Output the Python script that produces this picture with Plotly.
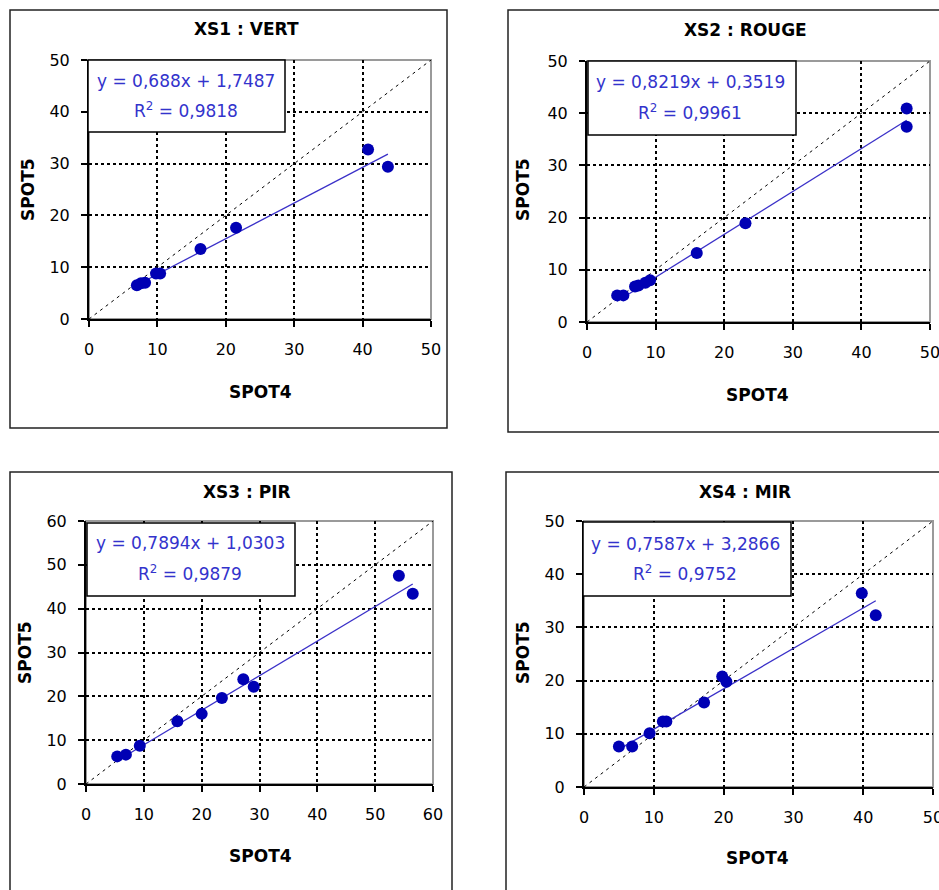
import plotly.graph_objects as go

W, H = 939, 890

titles = ["XS1 : VERT", "XS2 : ROUGE", "XS3 : PIR", "XS4 : MIR"]
axis_max = [50, 50, 60, 50]

x1 = [7.0, 7.6, 8.2, 9.8, 10.4, 16.3, 21.5, 40.8, 43.7]
y1 = [6.5, 6.9, 7.0, 8.8, 8.8, 13.5, 17.6, 32.7, 29.4]

x2 = [4.4, 5.3, 7.0, 7.5, 8.5, 9.2, 16.0, 23.1, 46.6, 46.6]
y2 = [5.1, 5.1, 6.8, 7.0, 7.5, 8.0, 13.2, 18.9, 40.9, 37.4]

x3 = [5.4, 6.9, 9.3, 15.8, 20.0, 23.5, 27.2, 29.0, 54.1, 56.5]
y3 = [6.3, 6.7, 8.7, 14.3, 16.0, 19.6, 23.9, 22.2, 47.5, 43.4]

x4 = [5.0, 6.9, 9.4, 11.3, 11.8, 17.2, 19.8, 20.4, 39.8, 41.8]
y4 = [7.6, 7.6, 10.1, 12.3, 12.3, 15.9, 20.75, 19.8, 36.4, 32.3]

slopes = [0.688, 0.8219, 0.7894, 0.7587]
intercepts = [1.7487, 0.3519, 1.0303, 3.2866]
r2 = [0.9818, 0.9961, 0.9879, 0.9752]

xs = [x1, x2, x3, x4]
ys = [y1, y2, y3, y4]

# layout (pixel positions)
plot_px = [(89, 431, 60, 319), (587, 930, 61, 322), (86, 433, 521, 784), (584, 933, 521, 787)]
outer_px = [(10, 447, 10, 428), (508, 945, 10, 432), (10, 452, 472, 895), (506, 945, 472, 895)]
title_px = [(246, 29), (745, 30), (247, 492), (745, 492)]
xt_px = [(260, 392), (757, 395), (260, 856), (757, 858)]
yt_px = [(28, 190), (523, 190), (25, 653), (523, 653)]
box_px = [(88, 285, 60, 132), (588, 796, 61, 135), (87, 295, 523, 596), (583, 791, 522, 596)]
eq_px = [(186, 81, 110), (690, 82, 112), (190, 543, 573), (685, 544, 573)]

FONT = "DejaVu Sans"
BLUE_TXT = "#3333CC"
MARK = "#0000B4"
LINE = "#3a30c8"


def px(x):
    return x / W


def py(y):
    return 1 - y / H


def fmt(v):
    return str(v).replace(".", ",")


fig = go.Figure()
shapes = []
annotations = []

for i in range(4):
    sfx = "" if i == 0 else str(i + 1)
    xa, ya = "x" + sfx, "y" + sfx
    m = axis_max[i]
    # 1:1 line
    fig.add_trace(go.Scatter(x=[0, m], y=[0, m], mode="lines", xaxis=xa, yaxis=ya,
                             line=dict(color="black", width=1, dash="3px,4px"),
                             hoverinfo="skip", showlegend=False))
    # regression line
    xmin, xmax = min(xs[i]), max(xs[i])
    fig.add_trace(go.Scatter(x=[xmin, xmax],
                             y=[slopes[i] * xmin + intercepts[i], slopes[i] * xmax + intercepts[i]],
                             mode="lines", xaxis=xa, yaxis=ya,
                             line=dict(color=LINE, width=1.3), showlegend=False))
    # points
    fig.add_trace(go.Scatter(x=xs[i], y=ys[i], mode="markers", xaxis=xa, yaxis=ya,
                             marker=dict(color=MARK, size=12, symbol="circle"),
                             showlegend=False))

    x0, x1p, y0, y1p = plot_px[i]
    axcommon = dict(
        range=[0, m], dtick=10, tick0=0, showgrid=True, gridcolor="black", gridwidth=1.6,
        griddash="3px,3px", showline=True, linecolor="black", linewidth=2,
        ticks="outside", ticklen=6, tickwidth=1.5, tickcolor="black", zeroline=False,
        tickfont=dict(family=FONT, size=16, color="black"), fixedrange=True,
        automargin=False, ticklabeloverflow="allow",
    )
    fig.layout["xaxis" + sfx] = dict(axcommon, domain=[px(x0), px(x1p)], anchor=ya,
                                     ticklabelstandoff=9)
    fig.layout["yaxis" + sfx] = dict(axcommon, domain=[py(y1p), py(y0)], anchor=xa,
                                     ticklabelstandoff=8)

    # plot-area gray border
    shapes.append(dict(type="rect", xref=xa + " domain", yref=ya + " domain",
                       x0=0, x1=1, y0=0, y1=1, line=dict(color="#9a9a9a", width=2),
                       layer="below"))
    # outer panel box
    ox0, ox1, oy0, oy1 = outer_px[i]
    shapes.append(dict(type="rect", xref="paper", yref="paper",
                       x0=px(ox0), x1=px(ox1), y0=py(oy1), y1=py(oy0),
                       line=dict(color="#222222", width=1.5)))
    # equation box
    bx0, bx1, by0, by1 = box_px[i]
    shapes.append(dict(type="rect", xref="paper", yref="paper",
                       x0=px(bx0), x1=px(bx1), y0=py(by1), y1=py(by0),
                       fillcolor="white", line=dict(color="black", width=1.5), layer="above"))

    tx, ty = title_px[i]
    annotations.append(dict(text="<b>" + titles[i] + "</b>", x=px(tx), y=py(ty),
                            xref="paper", yref="paper", showarrow=False,
                            xanchor="center", yanchor="middle",
                            font=dict(family=FONT, size=17, color="black")))
    ax_, ay_ = xt_px[i]
    annotations.append(dict(text="<b>SPOT4</b>", x=px(ax_), y=py(ay_),
                            xref="paper", yref="paper", showarrow=False,
                            xanchor="center", yanchor="middle",
                            font=dict(family=FONT, size=17, color="black")))
    bx_, by_ = yt_px[i]
    annotations.append(dict(text="<b>SPOT5</b>", x=px(bx_), y=py(by_), textangle=-90,
                            xref="paper", yref="paper", showarrow=False,
                            xanchor="center", yanchor="middle",
                            font=dict(family=FONT, size=17, color="black")))
    ex, ey1, ey2 = eq_px[i]
    annotations.append(dict(text="y = " + fmt(slopes[i]) + "x + " + fmt(intercepts[i]),
                            x=px(ex), y=py(ey1), xref="paper", yref="paper", showarrow=False,
                            xanchor="center", yanchor="middle",
                            font=dict(family=FONT, size=17, color=BLUE_TXT)))
    annotations.append(dict(text="R<sup>2</sup> = " + fmt(r2[i]),
                            x=px(ex), y=py(ey2), xref="paper", yref="paper", showarrow=False,
                            xanchor="center", yanchor="middle",
                            font=dict(family=FONT, size=17, color=BLUE_TXT)))

fig.update_layout(
    width=W, height=H, margin=dict(l=0, r=0, t=0, b=0, autoexpand=False),
    paper_bgcolor="white", plot_bgcolor="white",
    shapes=shapes, annotations=annotations, showlegend=False,
)

fig.write_html("out.html", config={"displayModeBar": False})
